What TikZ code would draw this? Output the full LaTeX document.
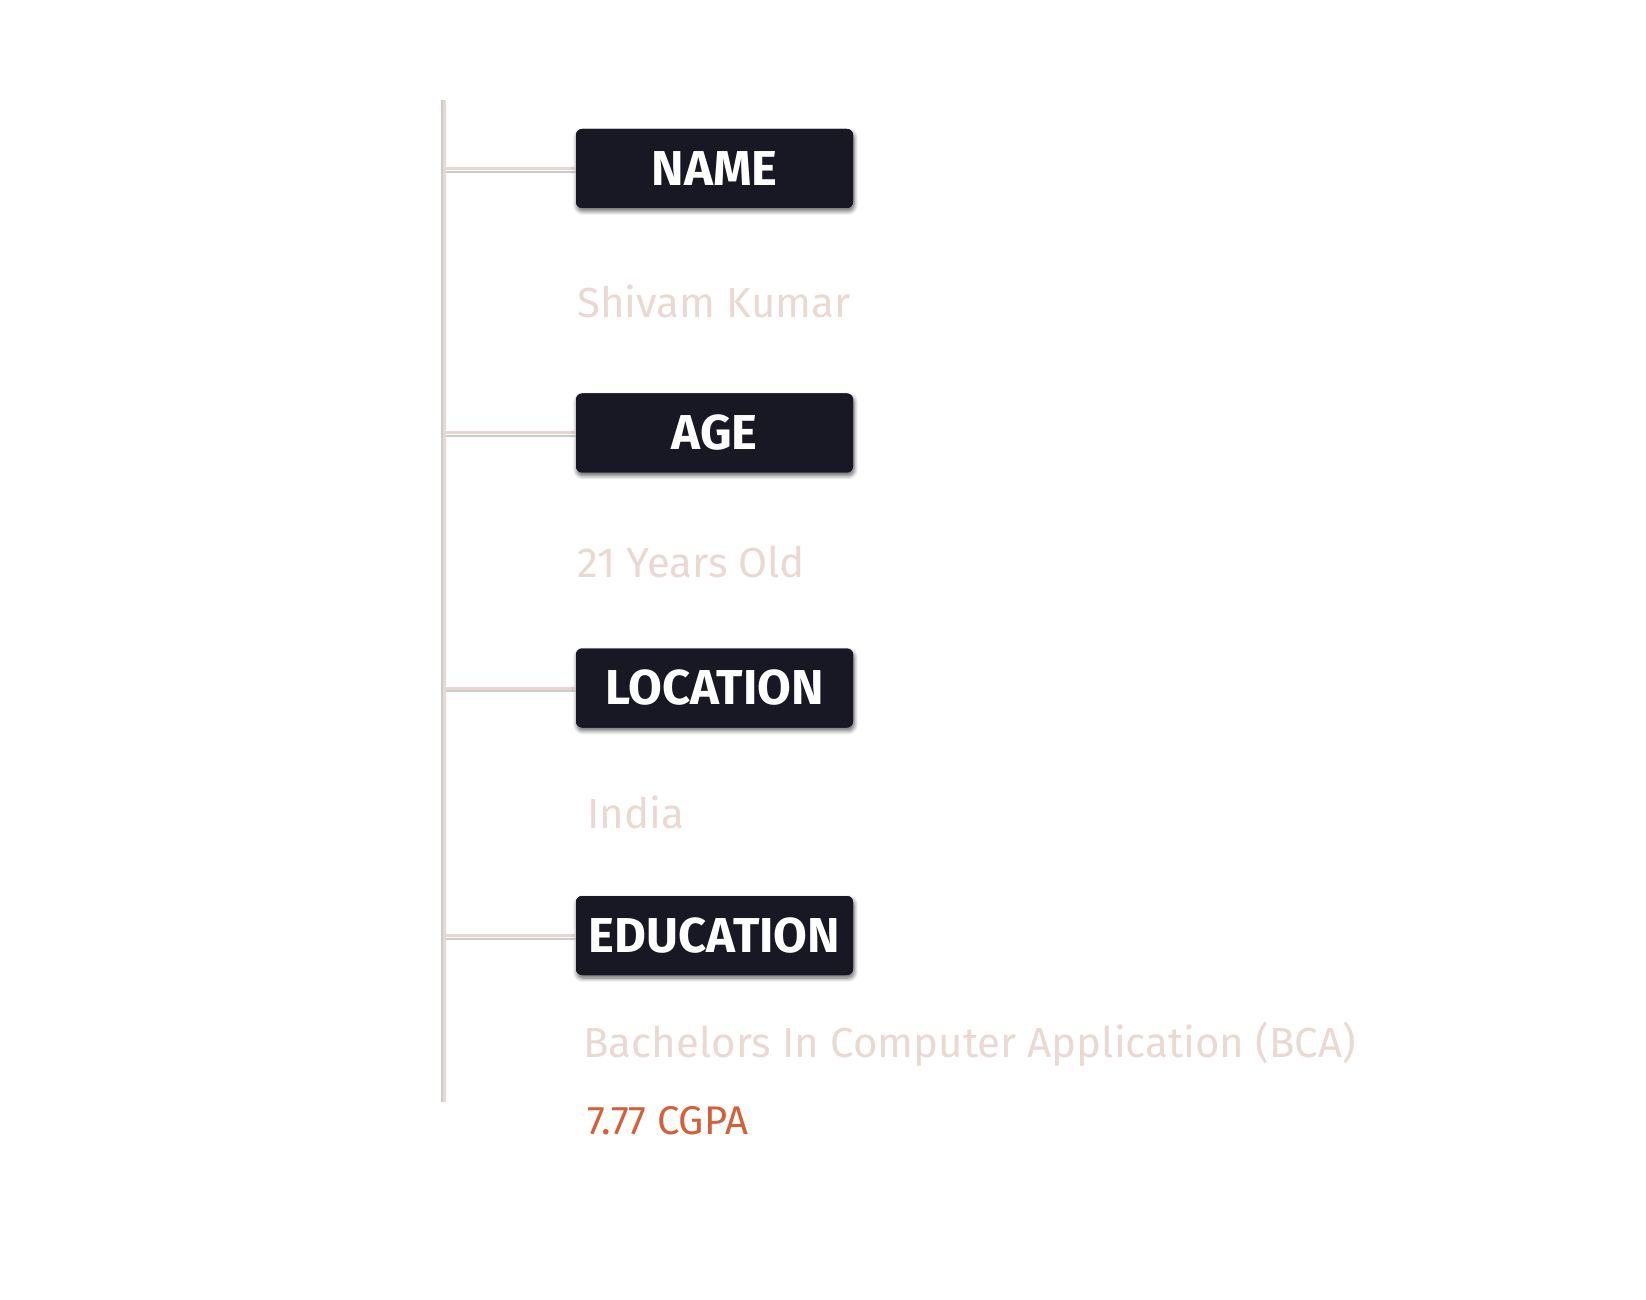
\documentclass[tikz,border=0pt]{standalone}
\usepackage{fontspec}
\setmainfont{Fira Sans}
\usetikzlibrary{positioning,shadows.blur}

\definecolor{boxdark}{HTML}{181824}
\definecolor{spinepink}{HTML}{E8D6D0}
\definecolor{valpink}{HTML}{EAD8D2}
\definecolor{gradeorange}{HTML}{D2603A}

\begin{document}
\begin{tikzpicture}[
  x=0.5pt, y=-0.5pt,
  label/.style={rectangle, rounded corners=3pt, fill=boxdark, text=white,
    blur shadow={shadow xshift=0.5pt, shadow yshift=-1.5pt, shadow blur steps=6, shadow opacity=35},
    minimum width=138.5pt, minimum height=39.5pt, inner sep=0pt,
    font=\bfseries\fontsize{24.5}{28}\selectfont},
  value/.style={anchor=base west, inner sep=0pt, text=valpink,
    font=\fontsize{21}{25}\selectfont},
  grade/.style={anchor=base west, inner sep=0pt, text=gradeorange,
    font=\fontsize{20}{24}\selectfont},
  spine/.style={draw=spinepink, line width=1.5pt},
  spineshade/.style={draw=black!20, line width=1.1pt}
]
\useasboundingbox (0,0) rectangle (1646,1300);
% spine ends
\coordinate (top) at (444,100);
\coordinate (bottom) at (444,1102);
% headings
\node[label] (name) at (714.5,168.5) {NAME};
\node[label] (age) at (714.5,433) {AGE};
\node[label] (location) at (714.5,688) {LOCATION};
\node[label] (education) at (714.5,935.5) {EDUCATION};
% values
\node[value] (fullname) at (577,318) {Shivam Kumar};
\node[value] (years) at (577,577) {21 Years Old};
\node[value] (country) at (587,828) {India};
\node[value] (degree) at (583,1057) {Bachelors In Computer Application (BCA)};
\node[grade] (cgpa) at (587,1134) {7.77 CGPA};
% shade under the lines
\draw[spineshade] ([xshift=-1.2pt]top) -- ([xshift=-1.2pt]bottom);
\foreach \n in {name,age,location,education}
  \draw[spineshade] ([yshift=-1.6pt]\n.west) -- ([yshift=-1.6pt]\n.west -| top);
\draw[spine] (top) -- (bottom);
\foreach \n in {name,age,location,education}
  \draw[spine] (\n.west) -- (\n.west -| top);
% redraw headings over connectors
\foreach \n/\t in {name/NAME,age/AGE,location/LOCATION,education/EDUCATION}
  \node[label] at (\n) {\t};
\end{tikzpicture}
\end{document}
